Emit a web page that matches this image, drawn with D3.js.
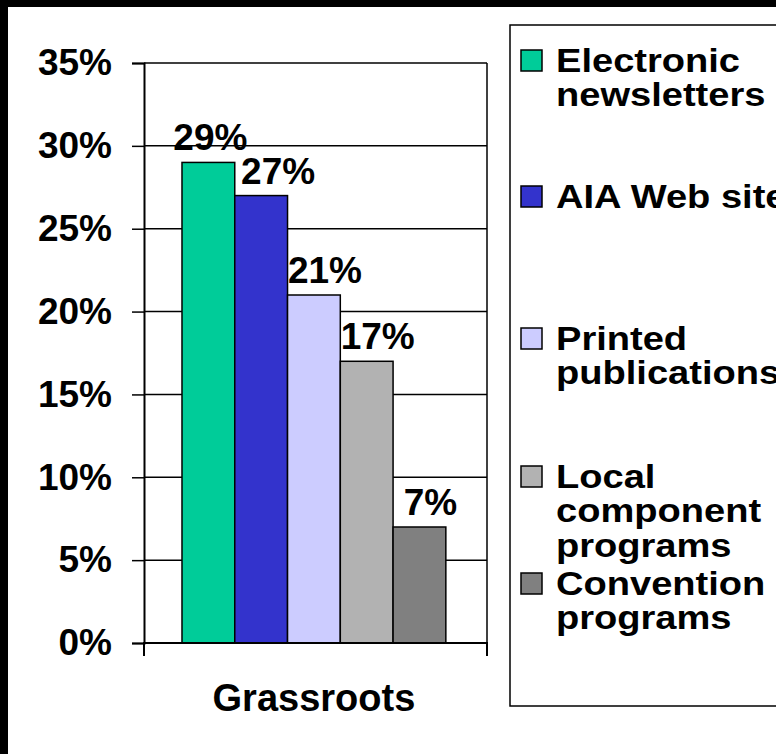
<!DOCTYPE html>
<html>
<head>
<meta charset="utf-8">
<script src="https://cdn.jsdelivr.net/npm/d3@7"></script>
<style>
  html, body { margin: 0; padding: 0; background: #fff; }
  svg { display: block; }
  text { font-family: Arial, "Liberation Sans", sans-serif; font-weight: bold; fill: #000; }
</style>
</head>
<body>
<svg id="chart" width="776" height="754"></svg>
<script>
// ---- data ----
const categories = ["Grassroots"];
const seriesNames = ["Electronic newsletters", "AIA Web site", "Printed publications", "Local component programs", "Convention programs"];
const seriesValues = [0.29, 0.27, 0.21, 0.17, 0.07];
const seriesColors = ["#00CC99", "#3333CC", "#CCCCFF", "#B2B2B2", "#808080"];
const legendLines = [["Electronic", "newsletters"], ["AIA Web site"], ["Printed", "publications"], ["Local", "component", "programs"], ["Convention", "programs"]];
const yTicks = [0, 0.05, 0.10, 0.15, 0.20, 0.25, 0.30, 0.35];
const yTickLabels = ["0%", "5%", "10%", "15%", "20%", "25%", "30%", "35%"];

// ---- layout ----
const svg = d3.select("#chart");
const plot = { left: 144, right: 487, top: 63, bottom: 643 };

svg.append("rect").attr("x", 0).attr("y", 0).attr("width", 776).attr("height", 754).attr("fill", "#fff");

const y = d3.scaleLinear().domain([0, 0.35]).range([plot.bottom, plot.top]);
const x0 = d3.scaleBand().domain(categories).range([plot.left, plot.right]).paddingInner(0).paddingOuter(0.15).align(0.48);
const x1 = d3.scaleBand().domain(seriesNames).range([0, x0.bandwidth()]).padding(0);

// gridlines
svg.append("g").selectAll("line").data(yTicks.filter(t => t > 0)).join("line")
  .attr("x1", plot.left).attr("x2", plot.right)
  .attr("y1", d => y(d)).attr("y2", d => y(d))
  .attr("stroke", "#000").attr("stroke-width", 1.5);

// right border of plot area + category tick
svg.append("line").attr("x1", plot.right).attr("x2", plot.right)
  .attr("y1", plot.top).attr("y2", plot.bottom + 13).attr("stroke", "#000").attr("stroke-width", 1.5);

// bars
const g = svg.append("g").selectAll("g").data(categories).join("g")
  .attr("transform", d => `translate(${x0(d)},0)`);
g.selectAll("rect").data(seriesNames.map((s, i) => ({ s, v: seriesValues[i], c: seriesColors[i] }))).join("rect")
  .attr("x", d => x1(d.s)).attr("width", x1.bandwidth())
  .attr("y", d => y(d.v)).attr("height", d => y(0) - y(d.v))
  .attr("fill", d => d.c).attr("stroke", "#000").attr("stroke-width", 1.5);

// data labels
g.selectAll("text").data(seriesNames.map((s, i) => ({ s, v: seriesValues[i], i }))).join("text")
  .attr("x", d => x1(d.s) + x1.bandwidth() / 2 + (d.i === 0 ? 2 : (d.i === 1 ? 17 : 11)))
  .attr("y", d => y(d.v) - 12)
  .attr("text-anchor", "middle").attr("font-size", 37)
  .text(d => Math.round(d.v * 100) + "%");

// y axis
const yAxis = d3.axisLeft(y).tickValues(yTicks).tickFormat((d, i) => yTickLabels[i]).tickSize(12).tickPadding(20);
const ya = svg.append("g").attr("transform", `translate(${plot.left},0)`).call(yAxis);
ya.select(".domain").attr("stroke", "#000").attr("stroke-width", 2);
ya.selectAll(".tick line").attr("stroke", "#000").attr("stroke-width", 1.5);
ya.selectAll(".tick text").attr("font-size", 37).attr("font-family", "Arial, 'Liberation Sans', sans-serif").attr("font-weight", "bold").attr("fill", "#000");

// x axis
const xAxis = d3.axisBottom(x0).tickSize(0).tickFormat("");
const xa = svg.append("g").attr("transform", `translate(0,${plot.bottom})`).call(xAxis);
xa.select(".domain").attr("stroke", "#000").attr("stroke-width", 2).attr("d", `M${plot.left},13V0H${plot.right}V13`);
svg.append("text").attr("x", x0(categories[0]) + x0.bandwidth() / 2).attr("y", 711)
  .attr("text-anchor", "middle").attr("font-size", 38).text(categories[0]);

// legend
const legendBaselines = [72, 208, 350, 488, 595];
const lineH = 34.5;
const legend = svg.append("g");
legend.append("rect").attr("x", 510).attr("y", 25).attr("width", 300).attr("height", 681)
  .attr("fill", "none").attr("stroke", "#000").attr("stroke-width", 1.5);
const items = legend.selectAll("g.item").data(seriesNames.map((s, i) => ({ s, c: seriesColors[i], lines: legendLines[i], i }))).join("g")
  .attr("class", "item")
  .attr("transform", d => `translate(0,${legendBaselines[d.i]})`);
items.append("rect").attr("x", 521).attr("y", -22).attr("width", 21).attr("height", 21)
  .attr("fill", d => d.c).attr("stroke", "#000").attr("stroke-width", 1.5);
items.append("g").attr("transform", "translate(556,0) scale(1.12,1)")
  .selectAll("text").data(d => d.lines).join("text")
  .attr("x", 0).attr("y", (d, i) => i * lineH)
  .attr("font-size", 34).text(d => d);

// black frame (top and left)
svg.append("rect").attr("x", 0).attr("y", 0).attr("width", 776).attr("height", 7).attr("fill", "#000");
svg.append("rect").attr("x", 0).attr("y", 0).attr("width", 8).attr("height", 754).attr("fill", "#000");
</script>
</body>
</html>
